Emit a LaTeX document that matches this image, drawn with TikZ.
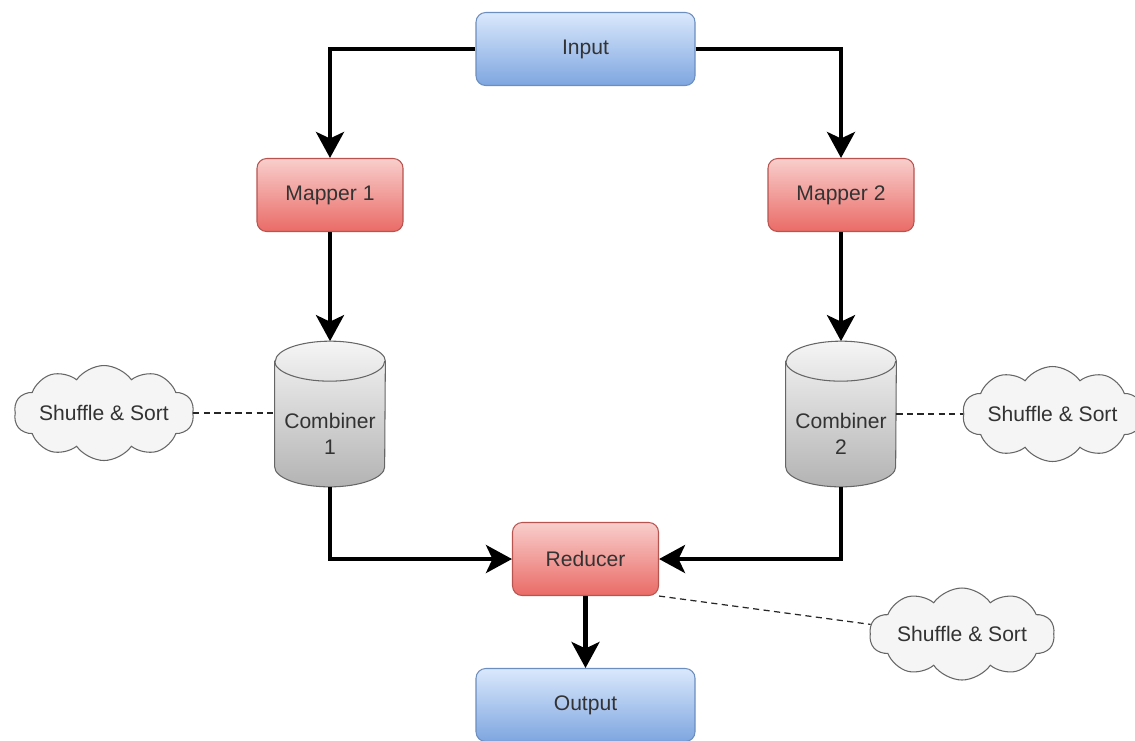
\documentclass[tikz,border=0pt]{standalone}
\usepackage{fontspec}
\setmainfont{Liberation Sans}
\usetikzlibrary{arrows.meta,shapes.symbols,calc,backgrounds}
\definecolor{blueTop}{HTML}{DAE8FC}
\definecolor{blueBot}{HTML}{7EA6E0}
\definecolor{blueLine}{HTML}{6C8EBF}
\definecolor{redTop}{HTML}{F8CECC}
\definecolor{redBot}{HTML}{EA6B66}
\definecolor{redLine}{HTML}{B85450}
\definecolor{grayTop}{HTML}{F5F5F5}
\definecolor{grayBot}{HTML}{B3B3B3}
\definecolor{grayLine}{HTML}{666666}

\begin{document}
\begin{tikzpicture}
\tikzstyle{every node}+=[font=\fontsize{12}{14.5}\selectfont, text=black!80]
\tikzstyle{bluebox}=[draw=blueLine, line width=0.6pt, rounded corners=5.5pt, top color=blueTop, bottom color=blueBot, minimum width=4.38cm, minimum height=1.46cm]
\tikzstyle{redbox}=[draw=redLine, line width=0.6pt, rounded corners=5.5pt, top color=redTop, bottom color=redBot, minimum width=2.92cm, minimum height=1.46cm]
\tikzstyle{cylbox}=[minimum width=2.2cm, minimum height=2.1cm, inner sep=0pt, align=center]
\tikzstyle{cylshape}=[draw=grayLine, line width=0.6pt, top color=grayTop, bottom color=grayBot]
\tikzstyle{cloudbox}=[cloud, cloud puffs=10, cloud puff arc=110, cloud ignores aspect, draw=grayLine, fill=grayTop, line width=0.6pt, inner sep=0pt, minimum width=3.6cm, minimum height=1.9cm]
\tikzstyle{arr}=[line width=2.3pt, -{Stealth[length=0.52cm, width=0.56cm, inset=0.13cm]}]
\tikzstyle{dashline}=[line width=0.7pt, black!85, dash pattern=on 3.5pt off 2.5pt]
\useasboundingbox (0,0) rectangle (22.7,-14.8);
% boxes
\node[bluebox] (inp) at (11.71,-0.98) {Input};
\node[redbox] (map1) at (6.6,-3.9) {Mapper 1};
\node[redbox] (map2) at (16.82,-3.9) {Mapper 2};
\node[cylbox] (comb1) at (6.6,-8.68) {Combiner\\1};
\node[cylbox] (comb2) at (16.82,-8.68) {Combiner\\2};
\node[redbox] (red) at (11.71,-11.18) {Reducer};
\node[bluebox] (out) at (11.71,-14.1) {Output};
% clouds
\node[cloudbox] (cloud1) at (2.08,-8.26) {\makebox[2cm]{Shuffle \& Sort}};
\node[cloudbox] (cloud2) at (21.05,-8.28) {\makebox[2cm]{Shuffle \& Sort}};
\node[cloudbox, minimum width=3.7cm, minimum height=1.84cm] (cloud3) at (19.24,-12.68) {\makebox[2cm]{Shuffle \& Sort}};
% cylinders
\begin{scope}[on background layer]
\shadedraw[cylshape] ($(comb1.north west)+(0,0.4)$) -- ($(comb1.south west)+(0,0.4)$) arc[start angle=180, end angle=360, x radius=1.1, y radius=0.4] -- ($(comb1.north east)+(0,0.4)$) arc[start angle=0, end angle=180, x radius=1.1, y radius=0.4] -- cycle;
\draw[grayLine, line width=0.6pt] ($(comb1.north west)+(0,0.4)$) arc[start angle=180, end angle=360, x radius=1.1, y radius=0.4];
\shadedraw[cylshape] ($(comb2.north west)+(0,0.4)$) -- ($(comb2.south west)+(0,0.4)$) arc[start angle=180, end angle=360, x radius=1.1, y radius=0.4] -- ($(comb2.north east)+(0,0.4)$) arc[start angle=0, end angle=180, x radius=1.1, y radius=0.4] -- cycle;
\draw[grayLine, line width=0.6pt] ($(comb2.north west)+(0,0.4)$) arc[start angle=180, end angle=360, x radius=1.1, y radius=0.4];
\end{scope}
% connectors
\draw[arr] (inp.west) -| (map1.north);
\draw[arr] (inp.east) -| (map2.north);
\draw[arr] (map1.south) -- ($(comb1.north)+(0,0.8)$);
\draw[arr] (map2.south) -- ($(comb2.north)+(0,0.8)$);
\draw[arr] (comb1.south) |- (red.west);
\draw[arr] (comb2.south) |- (red.east);
\draw[arr] (red.south) -- (out.north);
\draw[dashline] (cloud1.east) -- (cloud1.east -| comb1.west);
\draw[dashline] (comb2.east |- cloud2.west) -- (cloud2.west);
\draw[dashline] (red.south east) -- (cloud3.174);
\end{tikzpicture}
\end{document}
